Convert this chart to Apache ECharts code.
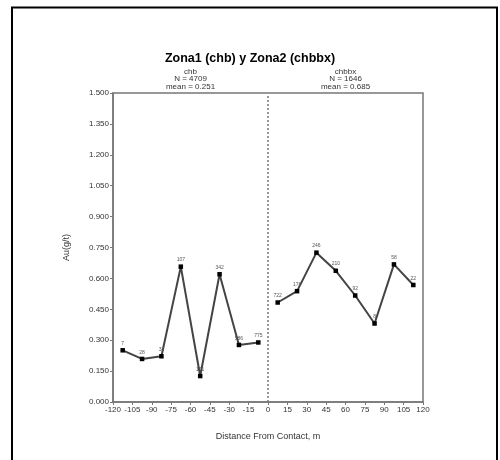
<!DOCTYPE html>
<html>
<head>
<meta charset="utf-8">
<script src="https://cdn.jsdelivr.net/npm/echarts@6/dist/echarts.min.js"></script>
<style>html,body{margin:0;padding:0;background:#fff;}#c{width:500px;height:460px;}</style>
</head>
<body>
<div id="c"></div>
<script>
var titleText = "Zona1 (chb) y Zona2 (chbbx)";
var leftHeader = ["chb", "N = 4709", "mean = 0.251"];
var rightHeader = ["chbbx", "N = 1646", "mean = 0.685"];
var xAxisName = "Distance From Contact, m";
var yAxisName = "Au(g/t)";

var chbX = [-112.5, -97.5, -82.5, -67.5, -52.5, -37.5, -22.5, -7.5];
var chbY = [0.251, 0.209, 0.222, 0.657, 0.126, 0.620, 0.277, 0.289];
var chbN = ["7", "28", "38", "107", "101", "342", "586", "775"];

var chbbxX = [7.5, 22.5, 37.5, 52.5, 67.5, 82.5, 97.5, 112.5];
var chbbxY = [0.483, 0.538, 0.725, 0.637, 0.517, 0.381, 0.668, 0.568];
var chbbxN = ["722", "178", "246", "210", "92", "8", "58", "22"];

function pairs(xs, ys) { return xs.map(function (x, i) { return [x, ys[i]]; }); }

var chart = echarts.init(document.getElementById('c'), null, {renderer: 'canvas'});
var font = 'Liberation Sans, Arial, sans-serif';
var gridL = 113, gridT = 93, gridR = 77, gridB = 58;
var leftCenter = gridL + (500 - gridL - gridR) * 0.25;
var rightCenter = gridL + (500 - gridL - gridR) * 0.75;

function lineSeries(name, xs, ys, ns, extra) {
  var s = {
    name: name,
    type: 'line',
    data: pairs(xs, ys),
    symbol: 'rect',
    symbolSize: 4.5,
    itemStyle: {color: '#000'},
    lineStyle: {color: '#444', width: 2},
    label: {
      show: true, position: 'top', distance: 2,
      fontSize: 5, color: '#555', fontFamily: font,
      formatter: function (p) { return ns[p.dataIndex]; }
    },
    animation: false
  };
  if (extra) for (var k in extra) s[k] = extra[k];
  return s;
}

chart.setOption({
  backgroundColor: '#fff',
  animation: false,
  title: {
    text: titleText, left: 'center', top: 47,
    textStyle: {fontSize: 12.5, fontWeight: 'bold', color: '#000', fontFamily: font}
  },
  graphic: [
    {type: 'rect', shape: {x: 12, y: 7.5, width: 485, height: 460}, style: {fill: null, stroke: '#000', lineWidth: 2}, silent: true, z: 100},
    {type: 'text', x: leftCenter, y: 67.5, style: {text: leftHeader.join('\n'), fontSize: 8, lineHeight: 7.8, fill: '#333', textAlign: 'center', fontFamily: font}},
    {type: 'text', x: rightCenter, y: 67.5, style: {text: rightHeader.join('\n'), fontSize: 8, lineHeight: 7.8, fill: '#333', textAlign: 'center', fontFamily: font}}
  ],
  grid: {left: gridL, top: gridT, right: gridR, bottom: gridB, show: true, borderColor: '#777', borderWidth: 1.5},
  xAxis: {
    type: 'value', min: -120, max: 120, interval: 15,
    name: xAxisName, nameLocation: 'middle', nameGap: 30,
    nameTextStyle: {fontSize: 9, color: '#333', fontFamily: font},
    axisLine: {show: true, onZero: false, lineStyle: {color: '#777', width: 1.5}},
    axisTick: {show: true, length: 3, lineStyle: {color: '#777'}},
    axisLabel: {fontSize: 8, color: '#333', margin: 4, fontFamily: font},
    splitLine: {show: false}
  },
  yAxis: {
    type: 'value', min: 0, max: 1.5, interval: 0.15,
    name: yAxisName, nameLocation: 'middle', nameGap: 42, nameRotate: 90,
    nameTextStyle: {fontSize: 9, color: '#333', fontFamily: font},
    axisLine: {show: true, onZero: false, lineStyle: {color: '#777', width: 1.5}},
    axisTick: {show: true, length: 3, lineStyle: {color: '#777'}},
    axisLabel: {fontSize: 8, color: '#333', margin: 4, fontFamily: font, formatter: function (v) { return v.toFixed(3); }},
    splitLine: {show: false}
  },
  series: [
    lineSeries('chb', chbX, chbY, chbN, {
      markLine: {
        silent: true, symbol: 'none', label: {show: false},
        lineStyle: {color: '#777', type: [2, 2], width: 1.5},
        data: [[{coord: [0, 1.485]}, {coord: [0, 0]}]]
      }
    }),
    lineSeries('chbbx', chbbxX, chbbxY, chbbxN)
  ]
});
</script>
</body>
</html>
